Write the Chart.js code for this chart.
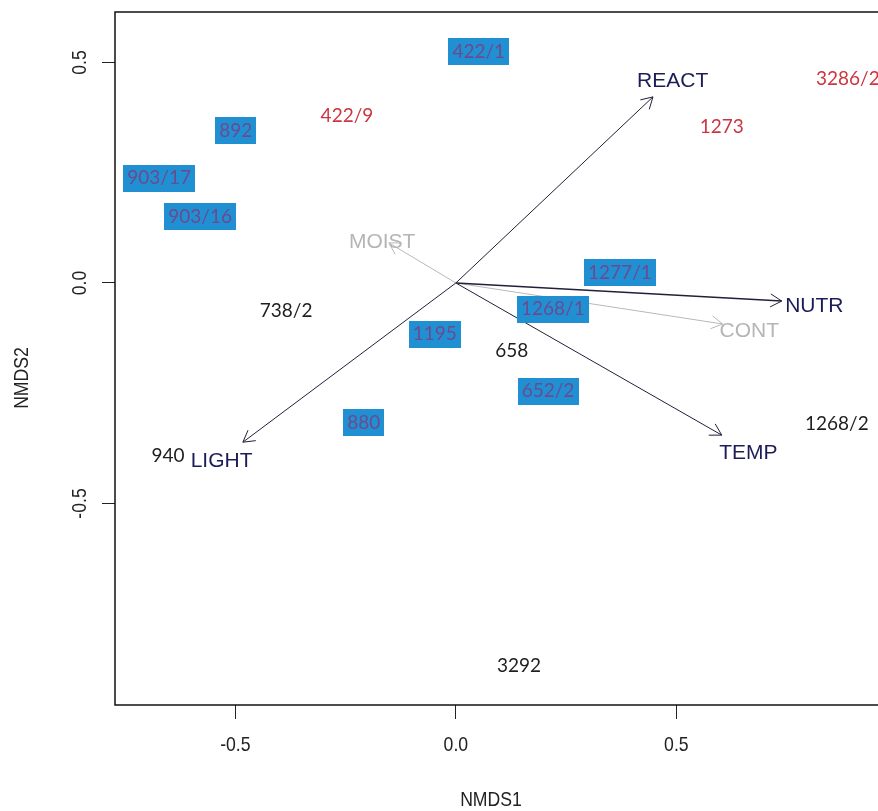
<!DOCTYPE html>
<html>
<head>
<meta charset="utf-8">
<title>NMDS ordination</title>
<script src="https://cdn.jsdelivr.net/npm/chart.js@4.4.1/dist/chart.umd.min.js"></script>
<style>
  html, body { margin: 0; padding: 0; background: #fff; overflow: hidden; }
  #wrap { width: 900px; height: 811px; }
</style>
</head>
<body>
<div id="wrap"><canvas id="nmds" width="900" height="811"></canvas></div>
<script>
// site scores on the first two NMDS axes
const siteNames = ['422/1', '892', '903/17', '903/16', '1277/1', '1268/1', '652/2', '1195', '880',
                   '422/9', '1273', '3286/2',
                   '738/2', '658', '940', '1268/2', '3292'];
const siteX = [0.052, -0.499, -0.673, -0.580, 0.372, 0.220, 0.209, -0.048, -0.209,
               -0.247, 0.603, 0.889,
               -0.385, 0.127, -0.653, 0.864, 0.143];
const siteY = [0.524, 0.345, 0.238, 0.150, 0.023, -0.059, -0.245, -0.116, -0.317,
               0.379, 0.354, 0.463,
               -0.063, -0.154, -0.392, -0.320, -0.868];
// 'hl' = highlighted plots, 'red' = second group, 'plain' = the rest
const siteGroup = ['hl', 'hl', 'hl', 'hl', 'hl', 'hl', 'hl', 'hl', 'hl',
                   'red', 'red', 'red',
                   'plain', 'plain', 'plain', 'plain', 'plain'];

// fitted Ellenberg indicator vectors
const envNames = ['REACT', 'NUTR', 'CONT', 'TEMP', 'LIGHT', 'MOIST'];
const envX = [0.447, 0.739, 0.605, 0.603, -0.483, -0.152];
const envY = [0.422, -0.041, -0.093, -0.345, -0.361, 0.091];
const envSignificant = [true, true, false, true, true, false];

const xTicks = [-0.5, 0.0, 0.5];
const yTicks = [-0.5, 0.0, 0.5];

const LABEL_MULT = 1.1;   // vector labels sit just past the arrow tip

const siteFont = "19px Lato, 'Open Sans', sans-serif";
const envFont = "21px 'Liberation Sans', Arial, sans-serif";
const axisFont = "21px 'Liberation Sans', Arial, sans-serif";

const envColor = i => envSignificant[i] ? '#1c1c58' : '#b5b5b5';
const lineColor = i => envSignificant[i] ? '#20203a' : '#b8b8b8';

const datasets = envNames.map((name, i) => ({
  label: name,
  data: [{ x: 0, y: 0 }, { x: envX[i], y: envY[i] }],
  showLine: true,
  borderColor: lineColor(i),
  borderWidth: i === 1 ? 1.6 : 1,
  pointRadius: 0
}));
datasets.push({
  label: 'vector labels',
  data: envNames.map((n, i) => ({ x: envX[i] * LABEL_MULT, y: envY[i] * LABEL_MULT })),
  pointRadius: 0
});
datasets.push({
  label: 'sites',
  data: siteNames.map((n, i) => ({ x: siteX[i], y: siteY[i] })),
  pointRadius: 0
});

// narrow axis lettering: squeeze a regular sans horizontally
function narrowText(ctx, text, x, y, rot) {
  ctx.save();
  ctx.translate(x, y);
  if (rot) ctx.rotate(rot);
  ctx.scale(0.84, 1);
  ctx.fillText(text, 0, 0);
  ctx.restore();
}

const biplotLabels = {
  id: 'biplotLabels',
  afterDatasetsDraw(chart) {
    const ctx = chart.ctx;
    ctx.save();
    // open arrow heads
    envNames.forEach((name, i) => {
      const pts = chart.getDatasetMeta(i).data;
      const a = Math.atan2(pts[1].y - pts[0].y, pts[1].x - pts[0].x);
      const len = 13, spread = Math.PI / 6;
      ctx.strokeStyle = lineColor(i);
      ctx.lineWidth = 1;
      ctx.beginPath();
      ctx.moveTo(pts[1].x - len * Math.cos(a - spread), pts[1].y - len * Math.sin(a - spread));
      ctx.lineTo(pts[1].x, pts[1].y);
      ctx.lineTo(pts[1].x - len * Math.cos(a + spread), pts[1].y - len * Math.sin(a + spread));
      ctx.stroke();
    });

    ctx.textAlign = 'center';
    ctx.textBaseline = 'middle';

    // vector names
    ctx.font = envFont;
    chart.getDatasetMeta(envNames.length).data.forEach((pt, i) => {
      ctx.fillStyle = envColor(i);
      ctx.fillText(envNames[i], pt.x, pt.y + 3);
    });

    // site names
    ctx.font = siteFont;
    chart.getDatasetMeta(envNames.length + 1).data.forEach((pt, i) => {
      const g = siteGroup[i];
      if (g === 'hl') {
        const w = ctx.measureText(siteNames[i]).width + 8;
        ctx.fillStyle = '#2090d2';
        ctx.fillRect(Math.round(pt.x - w / 2), Math.round(pt.y - 13.5), Math.round(w), 27);
        ctx.fillStyle = '#6c4a90';
      } else if (g === 'red') {
        ctx.fillStyle = '#cb3540';
      } else {
        ctx.fillStyle = '#1e1e1e';
      }
      ctx.fillText(siteNames[i], pt.x, pt.y);
    });

    // plot frame
    const ca = chart.chartArea;
    ctx.strokeStyle = '#111';
    ctx.lineWidth = 1.5;
    ctx.strokeRect(ca.left, ca.top, ca.right - ca.left, ca.bottom - ca.top);

    // tick labels and axis titles
    const xs = chart.scales.x, ys = chart.scales.y;
    ctx.font = axisFont;
    ctx.fillStyle = '#222';
    xTicks.forEach(v => narrowText(ctx, v.toFixed(1), xs.getPixelForValue(v), 745));
    yTicks.forEach(v => narrowText(ctx, v.toFixed(1), 80, ys.getPixelForValue(v), -Math.PI / 2));
    narrowText(ctx, 'NMDS1', 491, 800);
    narrowText(ctx, 'NMDS2', 22, 378, -Math.PI / 2);
    ctx.restore();
  }
};

new Chart(document.getElementById('nmds'), {
  type: 'scatter',
  data: { datasets },
  options: {
    responsive: false,
    animation: false,
    devicePixelRatio: 1,
    layout: { padding: { top: 12, right: 12, left: 0, bottom: 0 } },
    plugins: { legend: { display: false }, tooltip: { enabled: false } },
    scales: {
      x: {
        type: 'linear',
        min: -0.773,
        max: 0.98,
        afterBuildTicks: s => { s.ticks = xTicks.map(v => ({ value: v })); },
        afterFit: s => { s.height = 106; },
        border: { display: false },
        grid: { drawOnChartArea: false, tickLength: 14, tickColor: '#222', lineWidth: 1 },
        ticks: { display: false }
      },
      y: {
        type: 'linear',
        min: -0.957,
        max: 0.6145,
        afterBuildTicks: s => { s.ticks = yTicks.map(v => ({ value: v })); },
        afterFit: s => { s.width = 115; },
        border: { display: false },
        grid: { drawOnChartArea: false, tickLength: 13, tickColor: '#222', lineWidth: 1 },
        ticks: { display: false }
      }
    }
  },
  plugins: [biplotLabels]
});
</script>
</body>
</html>
